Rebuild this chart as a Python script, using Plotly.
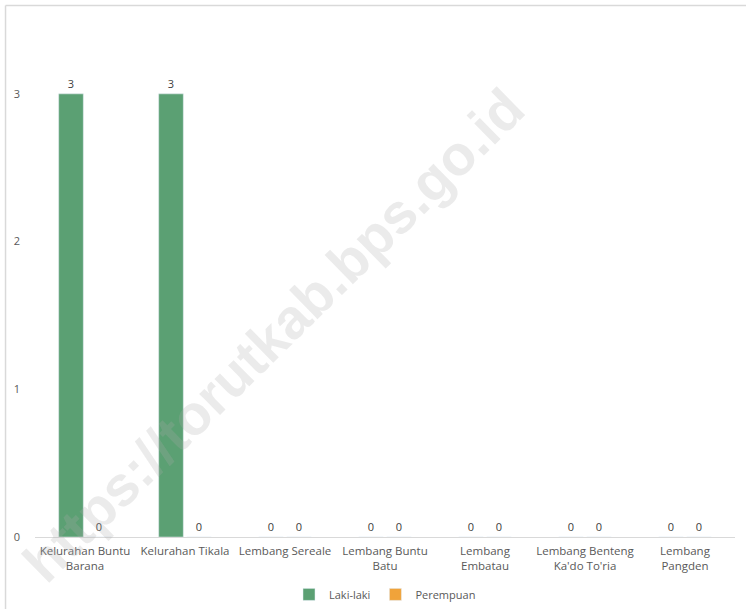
import plotly.graph_objects as go

categories = ["Kelurahan Buntu<br>Barana", "Kelurahan Tikala", "Lembang Sereale",
              "Lembang Buntu<br>Batu", "Lembang<br>Embatau", "Lembang Benteng<br>Ka'do To'ria",
              "Lembang<br>Pangden"]
laki = [3, 3, 0, 0, 0, 0, 0]
perempuan = [0, 0, 0, 0, 0, 0, 0]

font_fam = "Open Sans, Liberation Sans, sans-serif"
fig = go.Figure()
fig.add_trace(go.Bar(name="Laki-laki", x=categories, y=laki, marker_color="#5BA073",
                     text=laki, textposition="outside", cliponaxis=False,
                     textfont=dict(size=11, color="#404040")))
fig.add_trace(go.Bar(name="Perempuan", x=categories, y=perempuan, marker_color="#F0A33A",
                     text=perempuan, textposition="outside", cliponaxis=False,
                     textfont=dict(size=11, color="#404040")))

fig.update_layout(
    width=746, height=609,
    margin=dict(l=35, r=11, t=20, b=72, autoexpand=False),
    paper_bgcolor="white", plot_bgcolor="white",
    barmode="group", bargap=0.44, bargroupgap=0.12,
    font=dict(family=font_fam, size=11, color="#595959"),
    showlegend=True,
    legend=dict(orientation="h", x=0.5, xanchor="center", y=-0.083, yanchor="top",
                font=dict(size=11, color="#595959"), itemwidth=30, traceorder="normal"),
    xaxis=dict(showline=True, linecolor="#D9D9D9", linewidth=1, ticks="outside",
               ticklen=3, tickcolor="rgba(0,0,0,0)", tickangle=0,
               automargin=False, tickfont=dict(size=11.5, color="#595959")),
    yaxis=dict(range=[0, 3.5], tickvals=[0, 1, 2, 3], showgrid=False, zeroline=False,
               showline=False, ticks="", ticklabelstandoff=14, automargin=False,
               tickfont=dict(size=11, color="#595959")),
    shapes=[dict(type="line", xref="paper", yref="paper",
                 x0=-0.0421, x1=1.016, y0=1.028, y1=1.028,
                 line=dict(color="#D9D9D9", width=1.5)),
            dict(type="line", xref="paper", yref="paper",
                 x0=-0.0421, x1=-0.0421, y0=1.028, y1=-0.14,
                 line=dict(color="#D9D9D9", width=1.5))],
    annotations=[dict(text="<b>https://torutkab.bps.go.id</b>", xref="paper", yref="paper",
                      x=0.34, y=0.39, xanchor="center", yanchor="middle",
                      showarrow=False, textangle=-44.5,
                      font=dict(size=56, color="rgba(170,170,170,0.24)",
                            family="Liberation Sans, Arial, sans-serif"))]
)

fig.write_html("out.html", config={"displayModeBar": False},
               post_script="document.body.style.margin='0';document.body.style.overflow='hidden';")
